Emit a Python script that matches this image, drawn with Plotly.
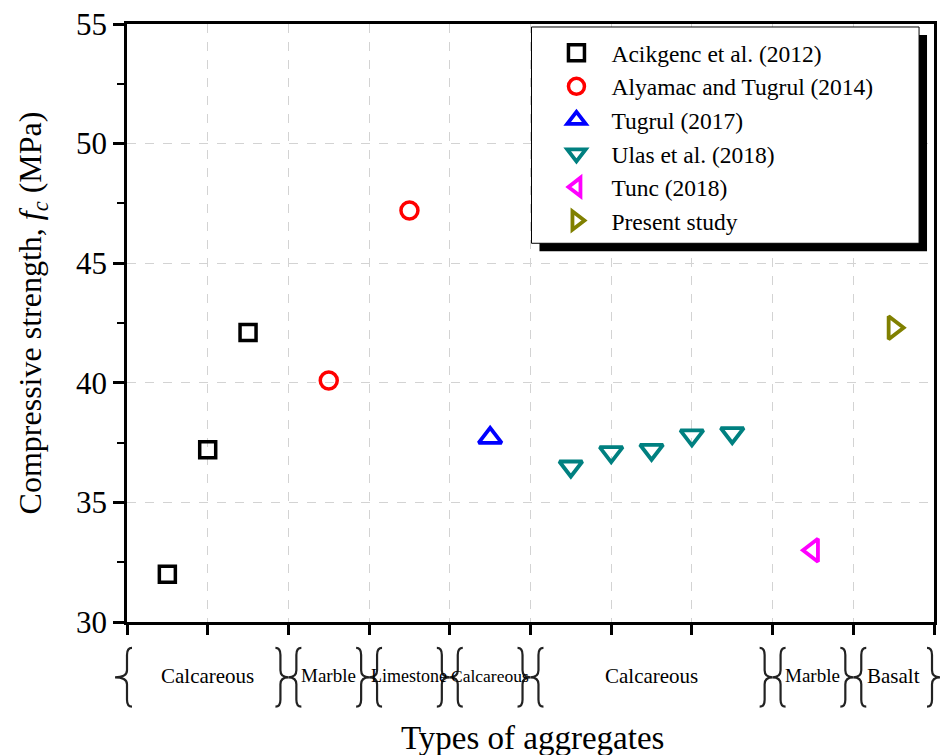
import plotly.graph_objects as go

# ---------------- data ----------------
series_names = ["Acikgenc et al. (2012)", "Alyamac and Tugrul (2014)", "Tugrul (2017)",
                "Ulas et al. (2018)", "Tunc (2018)", "Present study"]
acikgenc_x = [0.5, 1.0, 1.5]
acikgenc_y = [32.0, 37.2, 42.1]
alyamac_x = [2.5, 3.5]
alyamac_y = [40.1, 47.2]
tugrul_x = [4.5]
tugrul_y = [37.7]
ulas_x = [5.5, 6.0, 6.5, 7.0, 7.5]
ulas_y = [36.5, 37.1, 37.2, 37.8, 37.9]
tunc_x = [8.5]
tunc_y = [33.0]
present_x = [9.5]
present_y = [42.3]

group_labels = ["Calcareous", "Marble", "Limestone", "Calcareous", "Calcareous", "Marble", "Basalt"]
group_bounds = [0, 2, 3, 4, 5, 8, 9, 10]
y_ticks = [30, 35, 40, 45, 50, 55]

# ---------------- style ----------------
FONT = "Liberation Serif"
W, H = 944, 755
ML, MR, MT, MB = 127, 7, 22, 133
PW, PH = W - ML - MR, H - MT - MB
XMIN, XMAX = 0, 10
label_sizes = [21, 19, 18, 17.5, 21, 19, 21]

styles = [
    dict(symbol="square-open", color="#000000", size=16, lw=3.5),
    dict(symbol="circle-open", color="#FF0000", size=17, lw=3.5),
    dict(symbol="triangle-up-open", color="#0000FF", size=20, lw=3.8),
    dict(symbol="triangle-down-open", color="#008080", size=20, lw=3.8),
    dict(symbol="triangle-left-open", color="#FF00FF", size=20, lw=3.8),
    dict(symbol="triangle-right-open", color="#808000", size=20, lw=3.8),
]
xs = [acikgenc_x, alyamac_x, tugrul_x, ulas_x, tunc_x, present_x]
ys = [acikgenc_y, alyamac_y, tugrul_y, ulas_y, tunc_y, present_y]

fig = go.Figure()
for name, x, y, st in zip(series_names, xs, ys, styles):
    fig.add_trace(go.Scatter(
        x=x, y=y, mode="markers", name=name,
        marker=dict(symbol=st["symbol"], size=st["size"], color=st["color"],
                    line=dict(color=st["color"], width=st["lw"])),
        cliponaxis=False,
    ))


def px_x(xd, dpx=0):
    return (xd - XMIN) / (XMAX - XMIN) + dpx / PW


def pxx(pix):
    return (pix - ML) / PW


def py(pix):
    # pixel row (from top of figure) -> paper y
    return (H - MB - pix) / PH


def brace(xd, body_dpx, cusp_dpx, top_pix=648, bot_pix=707, tip=5, r=7):
    """Vertical curly brace; cusp points toward cusp side."""
    s = 1 if body_dpx > cusp_dpx else -1
    xb = px_x(xd, body_dpx)
    xc = px_x(xd, cusp_dpx)
    xt = px_x(xd, body_dpx + s * tip)
    mid = (top_pix + bot_pix) / 2
    y0, y1, ym = py(top_pix), py(bot_pix), py(mid)
    yr0, yrm1, yrm2, yr1 = py(top_pix + r), py(mid - r), py(mid + r), py(bot_pix - r)
    path = (f"M {xt},{y0} Q {xb},{y0} {xb},{yr0} L {xb},{yrm1} "
            f"Q {xb},{ym} {xc},{ym} Q {xb},{ym} {xb},{yrm2} L {xb},{yr1} "
            f"Q {xb},{y1} {xt},{y1}")
    return dict(type="path", xref="paper", yref="paper", path=path,
                line=dict(color="#222222", width=2.2))


shapes = []
n = len(group_labels)
for i in range(n):
    left, right = group_bounds[i], group_bounds[i + 1]
    if i == 0:
        shapes.append(brace(left, 0, -12))
    else:
        shapes.append(brace(left, 8, 0))
    if i == n - 1:
        shapes.append(brace(right, -2, 6))
    else:
        shapes.append(brace(right, -8, 0))

# legend box with shadow (drawn as shapes, legend itself transparent)
leg_l, leg_t, leg_r, leg_b = 533, 25, 922, 242
shapes.append(dict(type="rect", xref="paper", yref="paper",
                   x0=pxx(leg_l + 8), x1=pxx(leg_r + 8),
                   y0=py(leg_b + 8), y1=py(leg_t + 8),
                   fillcolor="black", line=dict(width=0), layer="above"))
shapes.append(dict(type="rect", xref="paper", yref="paper",
                   x0=pxx(leg_l), x1=pxx(leg_r),
                   y0=py(leg_b), y1=py(leg_t),
                   fillcolor="white", line=dict(width=1, color="black"), layer="above"))

annotations = []
for i, lab in enumerate(group_labels):
    cx = (group_bounds[i] + group_bounds[i + 1]) / 2
    annotations.append(dict(x=px_x(cx), y=py(676), xref="paper", yref="paper",
                            text=lab, showarrow=False,
                            font=dict(family=FONT, size=label_sizes[i], color="black"),
                            xanchor="center", yanchor="middle"))

annotations.append(dict(x=px_x(5.02), y=py(738), xref="paper", yref="paper",
                        text="Types of aggregates", showarrow=False,
                        font=dict(family=FONT, size=33, color="black"),
                        xanchor="center", yanchor="middle"))
annotations.append(dict(x=pxx(32), y=py(312), xref="paper", yref="paper",
                        text="Compressive strength, <i>f<sub>c</sub></i> (MPa)",
                        showarrow=False, textangle=-90,
                        font=dict(family=FONT, size=32, color="black"),
                        xanchor="center", yanchor="middle"))

fig.update_layout(
    width=W, height=H,
    margin=dict(l=ML, r=MR, t=MT, b=MB),
    paper_bgcolor="white", plot_bgcolor="white",
    font=dict(family=FONT, color="black"),
    showlegend=True,
    legend=dict(x=pxx(543), y=py(leg_t + 4), xanchor="left", yanchor="top",
                bgcolor="rgba(0,0,0,0)", borderwidth=0,
                font=dict(family=FONT, size=23.5, color="black"),
                itemwidth=60, tracegroupgap=0),
    shapes=shapes,
    annotations=annotations,
    xaxis=dict(range=[XMIN, XMAX], dtick=1, tick0=0, showticklabels=False,
               ticks="outside", ticklen=10, tickwidth=2.5, tickcolor="black",
               showline=True, linewidth=2.5, linecolor="black", mirror=True,
               showgrid=True, gridcolor="#d3d3d3", griddash="dash", gridwidth=1,
               zeroline=False),
    yaxis=dict(range=[y_ticks[0], y_ticks[-1]], tickvals=y_ticks,
               ticks="outside", ticklen=11, tickwidth=2.5, tickcolor="black",
               tickfont=dict(family=FONT, size=31, color="black"),
               showline=True, linewidth=2.5, linecolor="black", mirror=True,
               showgrid=True, gridcolor="#d3d3d3", griddash="dash", gridwidth=1,
               zeroline=False,
               minor=dict(dtick=2.5, tick0=30, ticks="outside", ticklen=7,
                          tickwidth=2, tickcolor="black", showgrid=False)),
)

fig.write_html("out.html", config={"displayModeBar": False},
               post_script="document.body.style.margin='0';document.body.style.overflow='hidden';")
